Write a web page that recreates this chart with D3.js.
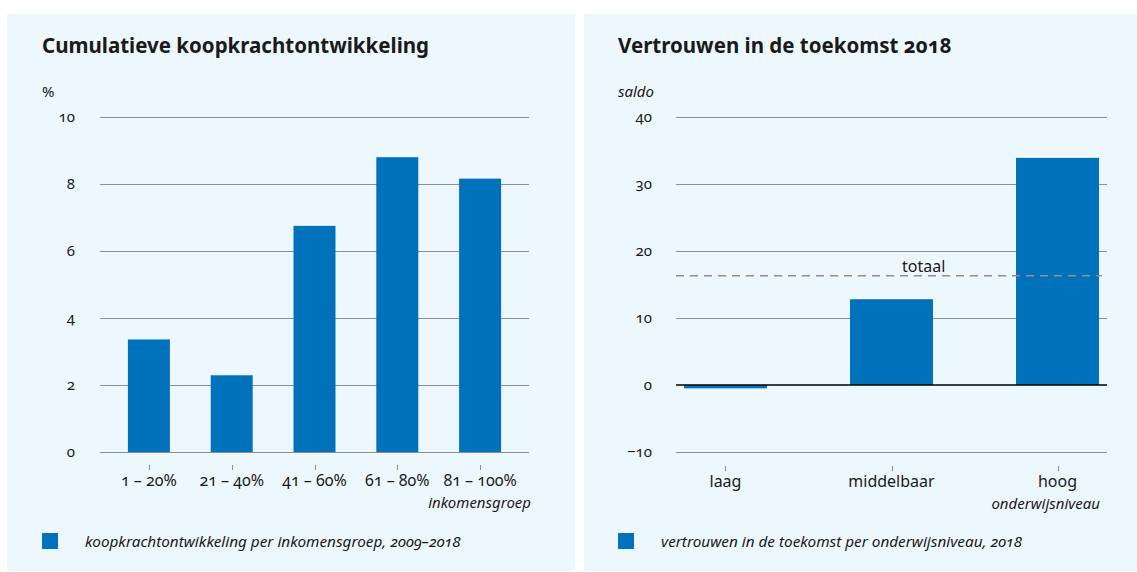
<!DOCTYPE html>
<html>
<head>
  <meta charset="utf-8">
  <script src="https://d3js.org/d3.v7.min.js"></script>
  <style type="text/css">
    body { margin: 0; background: #ffffff; }
    svg text {
      font-family: "Noto Sans", "Open Sans", sans-serif;
      font-variant-numeric: oldstyle-nums;
      fill: #1a1a1a;
    }
    .title { font-size: 20.5px; font-weight: 700; }
    .tick-label { font-size: 15px; }
    .cat-label { font-size: 16px; }
    .italic { font-style: italic; font-size: 15px; }
    .legend-text { font-style: italic; font-size: 15.3px; }
    .grid { stroke: #8a8f94; stroke-width: 1; }
  </style>
</head>
<body>
<script type="text/javascript">
  // Left chart: cumulatieve koopkrachtontwikkeling
  var incomeGroups = ["1 – 20%", "21 – 40%", "41 – 60%", "61 – 80%", "81 – 100%"];
  var incomeValues = [3.36, 2.29, 6.75, 8.8, 8.16];
  var incomeTicks = [0, 2, 4, 6, 8, 10];

  // Right chart: vertrouwen in de toekomst
  var eduLevels = ["laag", "middelbaar", "hoog"];
  var eduValues = [-0.5, 12.8, 33.9];
  var eduTicks = [-10, 0, 10, 20, 30, 40];
  var eduTotal = 16.3;

  var barColor = "#0071bb",
      panelColor = "#edf7fe";

  var svg = d3.select("body")
      .append("svg")
      .attr("width", 1137)
      .attr("height", 572);

  //Panels
  svg.append("rect").attr("x", 7).attr("y", 14).attr("width", 568).attr("height", 557)
      .attr("fill", panelColor);
  svg.append("rect").attr("x", 584).attr("y", 14).attr("width", 553).attr("height", 557)
      .attr("fill", panelColor);

  function drawPanel(o) {
    var g = svg.append("g");

    var y = d3.scaleLinear().domain(o.yDomain).range(o.yRange);
    var x = d3.scaleBand().domain(o.cats).range(o.xRange)
        .paddingInner(o.padIn).paddingOuter(o.padOut);

    //Title
    g.append("text").attr("class", "title")
        .attr("x", o.left).attr("y", 53).text(o.title);

    //Unit
    g.append("text").attr("class", o.unitItalic ? "italic" : "tick-label")
        .attr("x", o.left).attr("y", 97).text(o.unit);

    //Gridlines
    g.selectAll(".grid").data(o.ticks.filter(function(t) { return !(o.zeroBlack && t === 0); }))
      .enter().append("line")
        .attr("class", "grid")
        .attr("x1", o.gridX[0]).attr("x2", o.gridX[1])
        .attr("y1", function(d) { return Math.round(y(d)) + 0.5; })
        .attr("y2", function(d) { return Math.round(y(d)) + 0.5; });

    //Y tick labels
    g.selectAll(".ylab").data(o.ticks).enter().append("text")
        .attr("class", "tick-label")
        .attr("text-anchor", "end")
        .attr("x", o.labelX)
        .attr("y", function(d) { return y(d) + 5; })
        .text(function(d) { return d < 0 ? "−" + Math.abs(d) : d; });

    //Bars
    g.selectAll(".bar").data(o.values).enter().append("rect")
        .attr("fill", barColor)
        .attr("x", function(d, i) { return x(o.cats[i]); })
        .attr("width", x.bandwidth())
        .attr("y", function(d) { return y(Math.max(0, d)); })
        .attr("height", function(d) { return Math.abs(y(d) - y(0)); });

    if (o.zeroBlack) {
      g.append("line")
          .attr("x1", o.gridX[0]).attr("x2", o.gridX[1])
          .attr("y1", y(0)).attr("y2", y(0))
          .attr("stroke", "#000").attr("stroke-width", 1.6);
    }

    //Category ticks and labels
    g.selectAll(".xtick").data(o.cats).enter().append("line")
        .attr("x1", function(d) { return Math.round(x(d) + x.bandwidth() / 2) + 0.5; })
        .attr("x2", function(d) { return Math.round(x(d) + x.bandwidth() / 2) + 0.5; })
        .attr("y1", o.tickY).attr("y2", o.tickY + 5)
        .attr("stroke", "#8a8f94");
    g.selectAll(".xlab").data(o.cats).enter().append("text")
        .attr("class", "cat-label")
        .attr("text-anchor", "middle")
        .attr("x", function(d) { return x(d) + x.bandwidth() / 2; })
        .attr("y", o.tickY + 21)
        .text(function(d) { return d; });

    //Axis title
    g.append("text").attr("class", "italic")
        .attr("text-anchor", "end")
        .attr("x", o.axisTitleX).attr("y", o.tickY + 43)
        .text(o.axisTitle);

    //Legend
    g.append("rect").attr("fill", barColor)
        .attr("x", o.left).attr("y", 533).attr("width", 16).attr("height", 16);
    g.append("text").attr("class", "legend-text")
        .attr("x", o.left + 43).attr("y", 547).text(o.legend);

    return { x: x, y: y, g: g };
  }

  drawPanel({
    title: "Cumulatieve koopkrachtontwikkeling",
    unit: "%", unitItalic: false,
    left: 42,
    cats: incomeGroups, values: incomeValues, ticks: incomeTicks,
    yDomain: [0, 10], yRange: [452, 117],
    xRange: [100, 529], padIn: 0.493, padOut: 0.337,
    gridX: [100, 529], labelX: 75,
    tickY: 465,
    axisTitle: "inkomensgroep", axisTitleX: 531,
    legend: "koopkrachtontwikkeling per inkomensgroep, 2009–2018"
  });

  var right = drawPanel({
    title: "Vertrouwen in de toekomst 2018",
    unit: "saldo", unitItalic: true,
    left: 618,
    cats: eduLevels, values: eduValues, ticks: eduTicks,
    yDomain: [-10, 40], yRange: [452, 117],
    xRange: [676, 1107], padIn: 0.5, padOut: 0.048,
    gridX: [676, 1107], labelX: 652,
    tickY: 466, zeroBlack: true,
    axisTitle: "onderwijsniveau", axisTitleX: 1100,
    legend: "vertrouwen in de toekomst per onderwijsniveau, 2018"
  });

  //Totaal reference line
  right.g.append("line")
      .attr("x1", 676).attr("x2", 1102)
      .attr("y1", right.y(eduTotal)).attr("y2", right.y(eduTotal))
      .attr("stroke", "#a08a86").attr("stroke-width", 1.6)
      .attr("stroke-dasharray", "8,6");
  right.g.append("text").attr("class", "cat-label")
      .attr("x", 902).attr("y", right.y(eduTotal) - 4)
      .text("totaal");
</script>
</body>
</html>
